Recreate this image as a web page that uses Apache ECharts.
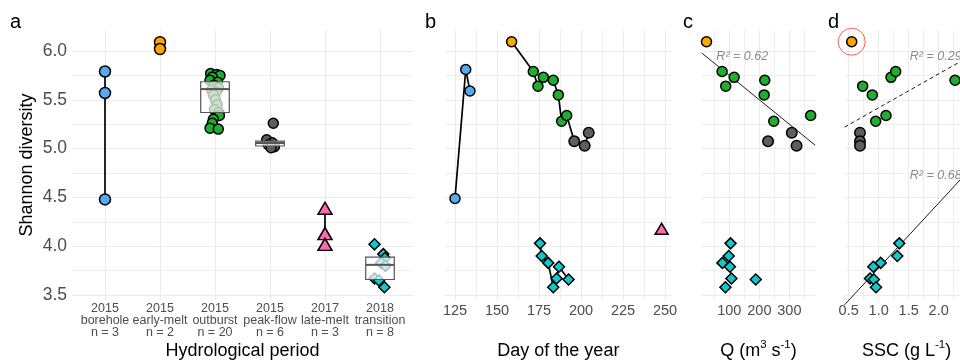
<!DOCTYPE html>
<html><head><meta charset="utf-8">
<script src="https://cdn.jsdelivr.net/npm/echarts@6/dist/echarts.min.js"></script>
<style>html,body{margin:0;padding:0;background:#fff}#c{width:960px;height:361px}</style>
</head><body><div id="c"></div>
<script>
// ---------- tick labels / categories ----------
const periodYears = ['2015', '2015', '2015', '2015', '2017', '2018'];
const periodNames = ['borehole', 'early-melt', 'outburst', 'peak-flow', 'late-melt', 'transition'];
const periodN = ['n = 3', 'n = 2', 'n = 20', 'n = 6', 'n = 3', 'n = 8'];
const periodPos = [1, 2, 3, 4, 5, 6];
const yTicks = [3.5, 4.0, 4.5, 5.0, 5.5, 6.0];
const yMinor = [3.75, 4.25, 4.75, 5.25, 5.75];
const dayTicks = [125, 150, 175, 200, 225, 250];
const dayMinor = [137.5, 162.5, 187.5, 212.5, 237.5];
const qTicks = [100, 200, 300];
const qMinor = [50, 150, 250, 350];
const sscTicks = [0.5, 1.0, 1.5, 2.0];
const sscMinor = [0.75, 1.25, 1.75, 2.25];

// ---------- panel a: Shannon diversity per hydrological period ----------
const aBorehole = [5.79, 5.57, 4.48];
const aEarly = [6.09, 6.02];
const aOutburst = [5.77, 5.76, 5.75, 5.73, 5.70, 5.68, 5.65, 5.62, 5.60, 5.58, 5.55, 5.50, 5.45, 5.40, 5.37, 5.34, 5.30, 5.26, 5.21, 5.20];
const aOutburstJit = [-0.08, 0.03, 0.09, -0.05, -0.09, 0.05, -0.02, 0.06, -0.06, 0.02, -0.03, 0.01, 0.04, -0.01, 0.07, 0.08, -0.03, -0.05, -0.09, 0.06];
const aPeak = [5.26, 5.09, 5.06, 5.04, 5.02, 5.01];
const aPeakJit = [0.06, -0.06, 0.04, -0.03, 0.08, 0.02];
const aLate = [4.39, 4.13, 4.02];
const aTrans = [4.02, 3.92, 3.88, 3.83, 3.80, 3.67, 3.65, 3.58];
const aTransJit = [-0.1, 0.06, 0.09, 0.02, 0.1, -0.1, -0.02, 0.08];
// box stats: [category, q1, median, q3]
const boxStats = [[3, 5.37, 5.61, 5.685], [4, 5.027, 5.058, 5.078], [6, 3.66, 3.81, 3.89]];

// ---------- panel b: day of year ----------
const bBoreDay = [125, 131.4, 133.9];       const bBoreVal = [4.49, 5.81, 5.59];
const bEarlyDay = [158.7];                  const bEarlyVal = [6.095];
const bOutDay = [171.6, 174.4, 177.6, 183.5, 186.5, 188.5, 191.5];
const bOutVal = [5.79, 5.64, 5.73, 5.70, 5.55, 5.28, 5.34];
const bPeakDay = [196, 202.2, 204.6];       const bPeakVal = [5.075, 5.03, 5.163];
const bLateDay = [248];                     const bLateVal = [4.18];
const bTransDay = [175.6, 176.6, 180.5, 183.5, 185.5, 186.9, 192.6];
const bTransVal = [4.03, 3.90, 3.83, 3.58, 3.67, 3.79, 3.66];

// ---------- panel c: discharge Q ----------
const cEarlyQ = [24];                       const cEarlyVal = [6.095];
const cOutQ = [76, 88, 116, 218, 216, 248, 371];
const cOutVal = [5.79, 5.64, 5.73, 5.70, 5.55, 5.28, 5.34];
const cPeakQ = [229, 308, 324];             const cPeakVal = [5.075, 5.163, 5.03];
const cTransQ = [104, 98, 77, 102, 107, 188, 87];
const cTransVal = [4.03, 3.90, 3.83, 3.79, 3.67, 3.66, 3.58];
const cFitQ = [8, 386];                     const cFitVal = [5.98, 5.035];

// ---------- panel d: suspended sediment concentration ----------
const dEarlySSC = [0.55];                   const dEarlyVal = [6.095];
const dOutSSC = [0.733, 0.893, 0.95, 1.122, 1.205, 1.283, 2.272];
const dOutVal = [5.64, 5.55, 5.28, 5.34, 5.73, 5.79, 5.70];
const dPeakSSC = [0.688, 0.688, 0.688];     const dPeakVal = [5.163, 5.075, 5.03];
const dTransSSC = [1.343, 1.31, 1.033, 0.91, 0.855, 0.92, 0.955];
const dTransVal = [4.03, 3.90, 3.83, 3.79, 3.67, 3.66, 3.58];
const dFitOutSSC = [0.43, 2.5];             const dFitOutVal = [5.22, 5.94];
const dFitTransSSC = [0.43, 2.5];           const dFitTransVal = [3.40, 4.775];

const r2Labels = ['R² = 0.62', 'R² = 0.29', 'R² = 0.68'];
const r2Pos = [[143, 5.94], [1.95, 5.94], [1.95, 4.72]];

// ---------- styling ----------
const FONT = 'Liberation Sans, Arial, Helvetica, sans-serif';
const GRIDC = '#ebebeb';
const TXT = '#4d4d4d';
const C = {blue: '#56aaf5', orange: '#ffa500', green: '#1fae2e', gray: '#5e5e5e', pink: '#ff69b4', cyan: '#10c8cf'};

const zip = (xs, ys) => xs.map((x, i) => [x, ys[i]]);

const grids = [
  {left: 72, top: 30, width: 341, height: 270},
  {left: 445, top: 30, width: 226.7, height: 270},
  {left: 701.7, top: 30, width: 113.5, height: 270},
  {left: 844.5, top: 30, width: 124.2, height: 270}
];

const nameStyle = {fontSize: 18, color: '#000', fontFamily: FONT, lineHeight: 24,
  rich: {sup: {fontSize: 11.5, color: '#000', fontFamily: FONT, verticalAlign: 'top', lineHeight: 14}}};

function xPair(gi, min, max, major, minor, fmt, name, labelStyle) {
  return [
    {gridIndex: gi, type: 'value', min: min, max: max,
     axisLine: {show: false}, axisTick: {show: false, customValues: major},
     axisLabel: Object.assign({customValues: major, formatter: fmt, color: TXT, fontFamily: FONT, margin: 3}, labelStyle),
     splitLine: {show: true, lineStyle: {color: GRIDC, width: 1.1}},
     name: name, nameLocation: 'middle', nameGap: 39, nameMoveOverlap: false, nameTextStyle: nameStyle},
    {gridIndex: gi, type: 'value', min: min, max: max,
     axisLine: {show: false}, axisTick: {show: false, customValues: minor.length ? minor : [min]},
     axisLabel: {show: false},
     splitLine: {show: minor.length > 0, lineStyle: {color: GRIDC, width: 0.8}}}
  ];
}
function yPair(gi, showLabels, name) {
  return [
    {gridIndex: gi, type: 'value', min: 3.45, max: 6.215, position: 'left',
     axisLine: {show: false}, axisTick: {show: false, customValues: yTicks},
     axisLabel: {show: showLabels, customValues: yTicks, formatter: v => v.toFixed(1), color: TXT, fontFamily: FONT, fontSize: 17.5, margin: 5},
     splitLine: {show: true, lineStyle: {color: GRIDC, width: 1.1}},
     name: name || '', nameLocation: 'middle', nameGap: 36, nameMoveOverlap: false, nameTextStyle: {fontSize: 18, color: '#000', fontFamily: FONT}},
    {gridIndex: gi, type: 'value', min: 3.45, max: 6.215, position: 'left',
     axisLine: {show: false}, axisTick: {show: false, customValues: yMinor},
     axisLabel: {show: false},
     splitLine: {show: true, lineStyle: {color: GRIDC, width: 0.8}}}
  ];
}

const xAxes = [].concat(
  xPair(0, 0.4, 6.6, periodPos, [], v => { const i = Math.round(v) - 1; return periodYears[i] + '\n' + periodNames[i] + '\n' + periodN[i]; },
        'Hydrological period', {fontSize: 12.5, lineHeight: 11.7}),
  xPair(1, 119.05, 254, dayTicks, dayMinor, v => String(v), 'Day of the year', {fontSize: 14.5}),
  xPair(2, 8, 386, qTicks, qMinor, v => String(v), 'Q (m{sup|3} s{sup|-1})', {fontSize: 14.5}),
  xPair(3, 0.43, 2.5, sscTicks, sscMinor, v => v.toFixed(1), 'SSC (g L{sup|-1})', {fontSize: 14.5})
);
const yAxes = [].concat(yPair(0, true, 'Shannon diversity'), yPair(1, false), yPair(2, false), yPair(3, false));

const series = [];
function pts(gi, data, symbol, size, color, z) {
  series.push({type: 'scatter', xAxisIndex: 2 * gi, yAxisIndex: 2 * gi, data: data, symbol: symbol, symbolSize: size,
    itemStyle: {color: color, borderColor: '#000', borderWidth: 1.5, opacity: 1}, z: z || 3, silent: true});
}
function path(gi, data, opts) {
  series.push(Object.assign({type: 'line', xAxisIndex: 2 * gi, yAxisIndex: 2 * gi, data: data, symbol: 'none',
    lineStyle: {color: '#000', width: 1.7}, z: 2, silent: true, animation: false}, opts || {}));
}

// panel a
path(0, aBorehole.map(v => [1, v]));
path(0, aLate.map(v => [5, v]));
pts(0, aBorehole.map(v => [1, v]), 'circle', 11, C.blue);
pts(0, aEarly.map(v => [2, v]), 'circle', 11, C.orange);
pts(0, aOutburst.map((v, i) => [3 + aOutburstJit[i], v]), 'circle', 10, C.green);
pts(0, aPeak.map((v, i) => [4 + aPeakJit[i], v]), 'circle', 10, C.gray);
pts(0, aLate.map(v => [5, v]), 'triangle', [14, 12], C.pink);
pts(0, aTrans.map((v, i) => [6 + aTransJit[i], v]), 'diamond', [11, 11], C.cyan);
series.push({
  type: 'custom', xAxisIndex: 0, yAxisIndex: 0, z: 5, silent: true, data: boxStats,
  encode: {x: 0, y: [1, 2, 3]},
  renderItem: function (params, api) {
    const x = api.value(0), q1 = api.value(1), md = api.value(2), q3 = api.value(3);
    const p1 = api.coord([x - 0.26, q3]), p2 = api.coord([x + 0.26, q1]);
    const m1 = api.coord([x - 0.26, md]), m2 = api.coord([x + 0.26, md]);
    return {type: 'group', children: [
      {type: 'rect', shape: {x: p1[0], y: p1[1], width: p2[0] - p1[0], height: p2[1] - p1[1]},
       style: {fill: 'rgba(255,255,255,0.72)', stroke: '#555', lineWidth: 1.2}},
      {type: 'line', shape: {x1: m1[0], y1: m1[1], x2: m2[0], y2: m2[1]}, style: {stroke: '#555', lineWidth: 2}}
    ]};
  }
});

// panel b
path(1, zip(bBoreDay, bBoreVal));
path(1, zip(bEarlyDay.concat(bOutDay, bPeakDay), bEarlyVal.concat(bOutVal, bPeakVal)));
path(1, zip(bTransDay, bTransVal));
pts(1, zip(bBoreDay, bBoreVal), 'circle', 10, C.blue);
pts(1, zip(bEarlyDay, bEarlyVal), 'circle', 10, C.orange);
pts(1, zip(bOutDay, bOutVal), 'circle', 10, C.green);
pts(1, zip(bPeakDay, bPeakVal), 'circle', 10.5, C.gray);
pts(1, zip(bLateDay, bLateVal), 'triangle', [13, 11], C.pink);
pts(1, zip(bTransDay, bTransVal), 'diamond', [11, 11], C.cyan);

// panel c
path(2, zip(cFitQ, cFitVal), {lineStyle: {color: '#000', width: 0.9}});
pts(2, zip(cEarlyQ, cEarlyVal), 'circle', 10, C.orange);
pts(2, zip(cOutQ, cOutVal), 'circle', 10, C.green);
pts(2, zip(cPeakQ, cPeakVal), 'circle', 10.5, C.gray);
pts(2, zip(cTransQ, cTransVal), 'diamond', [11, 11], C.cyan);

// panel d
path(3, zip(dFitOutSSC, dFitOutVal), {lineStyle: {color: '#000', width: 0.9, type: [4, 3]}});
path(3, zip(dFitTransSSC, dFitTransVal), {lineStyle: {color: '#000', width: 0.9}, clip: false});
pts(3, zip(dEarlySSC, dEarlyVal), 'circle', 10, C.orange);
pts(3, zip(dOutSSC, dOutVal), 'circle', 10, C.green);
pts(3, zip(dPeakSSC, dPeakVal), 'circle', 10.5, C.gray);
pts(3, zip(dTransSSC, dTransVal), 'diamond', [11, 11], C.cyan);
series.push({type: 'scatter', xAxisIndex: 6, yAxisIndex: 6, data: zip(dEarlySSC, dEarlyVal), symbol: 'circle', symbolSize: 27,
  itemStyle: {color: 'rgba(0,0,0,0)', borderColor: '#f0402f', borderWidth: 1}, z: 4, silent: true});

// R² labels
[[2, 0], [3, 1], [3, 2]].forEach(([gi, k]) => {
  series.push({type: 'scatter', xAxisIndex: 2 * gi, yAxisIndex: 2 * gi, data: [r2Pos[k]], symbolSize: 0, z: 6, silent: true,
    itemStyle: {color: 'rgba(0,0,0,0)'},
    label: {show: true, position: 'inside', formatter: r2Labels[k], fontStyle: 'italic', fontSize: 12.5, color: '#6e6e6e', fontFamily: FONT}});
});

const titles = [['a', 5], ['b', 420], ['c', 678], ['d', 823]].map(([t, l]) => ({
  text: t, left: l, top: 7, textStyle: {fontSize: 20, fontWeight: 'normal', color: '#000', fontFamily: FONT}}));

const chart = echarts.init(document.getElementById('c'), null, {renderer: 'canvas'});
chart.setOption({
  animation: false,
  backgroundColor: '#fff',
  textStyle: {fontFamily: FONT},
  title: titles,
  grid: grids.map(g => Object.assign({containLabel: false, outerBoundsMode: 'none'}, g)),
  xAxis: xAxes,
  yAxis: yAxes,
  series: series
});
</script></body></html>
